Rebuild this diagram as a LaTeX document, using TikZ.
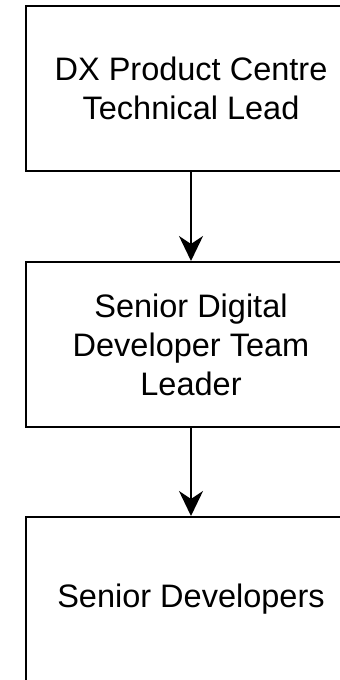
\documentclass[tikz,border=0pt]{standalone}
\usepackage{fontspec}
\setmainfont{Liberation Sans}
\usetikzlibrary{arrows.meta}

\begin{document}
\begin{tikzpicture}[x=1pt,y=-1pt,
    rolebox/.style={draw, line width=2pt, minimum width=330pt, minimum height=165pt,
      align=center, font=\fontsize{32.5}{39}\selectfont},
    reports/.style={line width=2pt, -{Stealth[length=25pt,width=24pt,inset=8pt]}}]
  \useasboundingbox (0,0) rectangle (340,680);
  \clip (0,0) rectangle (340,680);
  \node[rolebox] (lead) at (191, 88.5) {DX Product Centre\\Technical Lead};
  \node[rolebox] (teamleader) at (191, 344.5) {Senior Digital\\Developer Team\\Leader};
  \node[rolebox] (seniors) at (191, 599.5) {Senior Developers};
    \draw[reports] (lead) -- (teamleader);
    \draw[reports] (teamleader) -- (seniors);

\end{tikzpicture}
\end{document}
